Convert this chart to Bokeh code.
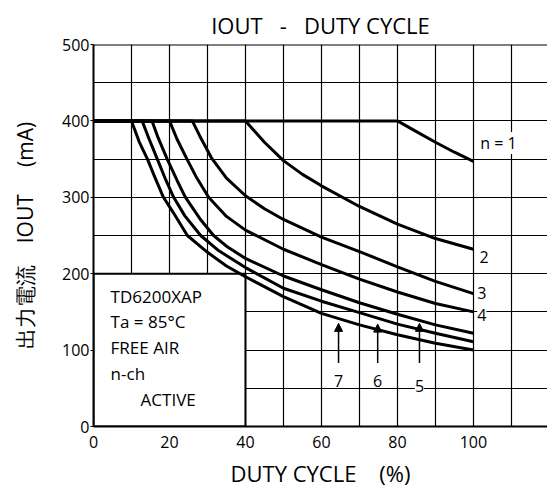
from bokeh.plotting import figure
from bokeh.models import (Range1d, FixedTicker, Label, Arrow, NormalHead, Span,
                          Title, ColumnDataSource)
from bokeh.embed import file_html
from bokeh.resources import INLINE
from bokeh.core.properties import value

# ---------------- data ----------------
n1_x = [0, 80, 85, 90, 95, 100]
n1_y = [400, 400, 386, 372, 359, 347]

n2_x = [0, 40, 45, 50, 55, 60, 70, 80, 90, 100]
n2_y = [400, 400, 372, 348, 330, 315, 288, 265, 246, 232]

n3_x = [0, 26, 28, 31, 35, 40, 45, 50, 60, 70, 80, 90, 100]
n3_y = [400, 400, 380, 352, 325, 302, 285, 271, 248, 229, 209, 190, 174]

n4_x = [0, 20, 22, 24.6, 27, 30.3, 35, 40, 50, 60, 70, 80, 90, 100]
n4_y = [400, 400, 376, 350, 327, 300, 275, 257, 232, 212, 193, 176, 161, 150]

n5_x = [0, 15.4, 17, 19.4, 22, 24.2, 28, 31.6, 35, 40, 50, 60, 70, 80, 90, 100]
n5_y = [400, 400, 378, 350, 322, 300, 272, 250, 236, 220, 197, 179, 162, 147, 133, 122]

n6_x = [0, 12.8, 14.5, 16.8, 19, 21.1, 24, 28.2, 33, 40, 50, 60, 70, 80, 90, 100]
n6_y = [400, 400, 378, 350, 323, 300, 276, 250, 230, 208, 181, 164, 149, 134, 122, 111]

n7_x = [0, 10, 12, 14.2, 16, 18.4, 21, 24.7, 30, 35, 40, 50, 60, 70, 80, 90, 100]
n7_y = [400, 400, 373, 350, 328, 300, 280, 250, 228, 210, 196, 170, 148, 133, 120, 109, 100]

x_tick_values = [0, 20, 40, 60, 80, 100]
y_tick_values = [0, 100, 200, 300, 400, 500]
x_grid_values = [10, 20, 30, 40, 50, 60, 70, 80, 90, 100, 110]
y_grid_values = [50, 100, 150, 200, 250, 300, 350, 400, 450, 500]

curve_labels = ["n = 1", "2", "3", "4"]
curve_label_x = [101.8, 101.6, 101.0, 101.0]
curve_label_y = [371, 222, 175, 146]

arrow_labels = ["7", "6", "5"]
arrow_x = [64.5, 74.8, 85.8]
arrow_tail_y = [83, 83, 83]
arrow_tip_y = [135, 134, 135]
arrow_label_y = [60, 59.5, 53]

box_lines = ["TD6200XAP", "Ta = 85°C", "FREE AIR", "n-ch", "ACTIVE"]
box_text_x = [4.5, 4.5, 4.5, 4.5, 12.4]
box_text_y = [170, 137, 104, 69, 35]
box_extent = dict(left=[0], right=[40], bottom=[0], top=[200])

NB = "\u00a0"
title_text = "IOUT" + NB + " " + NB + "-" + NB + " " + NB + "DUTY CYCLE"
x_title = "DUTY CYCLE" + NB + " " + NB + " " + "(%)"
y_title = "出力電流" + NB + " " + NB + " " + "IOUT" + NB + " " + NB + " " + NB + "(mA)"

# ---------------- figure ----------------
FONT = "Open Sans"

p = figure(width=547, height=490,
           x_range=Range1d(0, 119.5), y_range=Range1d(0, 500),
           output_backend="svg", toolbar_location=None,
           min_border_left=93, min_border_right=0,
           min_border_top=44, min_border_bottom=63)
p.outline_line_color = None
p.background_fill_color = "white"
p.border_fill_color = "white"

p.title = Title(text=title_text, align="center",
                text_font=FONT, text_font_size="22px",
                text_font_style="normal", text_color="black", standoff=10)

p.xaxis.ticker = FixedTicker(ticks=x_tick_values)
p.yaxis.ticker = FixedTicker(ticks=y_tick_values)
p.xgrid.ticker = FixedTicker(ticks=x_grid_values)
p.ygrid.ticker = FixedTicker(ticks=y_grid_values)
for g in (p.xgrid, p.ygrid):
    g.grid_line_color = "black"
    g.grid_line_alpha = 1.0
    g.grid_line_width = 1.2

for ax in (p.xaxis, p.yaxis):
    ax.axis_line_color = "black"
    ax.axis_line_width = 2
    ax.minor_tick_line_color = None
    ax.major_tick_in = 0
    ax.major_label_text_font = FONT
    ax.major_label_text_font_size = "16px"
    ax.major_label_text_color = "black"
    ax.axis_label_text_font = FONT
    ax.axis_label_text_font_style = "normal"
    ax.axis_label_text_color = "black"

p.xaxis.major_tick_out = 0
p.xaxis.major_label_standoff = 9
p.xaxis.axis_label = x_title
p.xaxis.axis_label_text_font_size = "22px"
p.xaxis.axis_label_standoff = 7

p.yaxis.major_tick_out = 3
p.yaxis.major_tick_line_color = "black"
p.yaxis.major_label_standoff = 1
p.yaxis.axis_label = y_title
p.yaxis.axis_label_text_font_size = "21px"
p.yaxis.axis_label_standoff = 20

p.add_layout(Span(location=500, dimension="width", line_color="black", line_width=2))

# info box
p.quad(fill_color="white", line_color="black", line_width=2, **box_extent)
p.text(x=box_text_x, y=box_text_y, text=box_lines,
       text_font=value(FONT), text_font_size="17px",
       text_align="left", text_baseline="middle", text_color="black")

# curves
for cx, cy in [(n1_x, n1_y), (n2_x, n2_y), (n3_x, n3_y), (n4_x, n4_y),
               (n5_x, n5_y), (n6_x, n6_y), (n7_x, n7_y)]:
    p.line(cx, cy, line_color="black", line_width=3, line_join="round")

# curve labels
for t, lx, ly in zip(curve_labels, curve_label_x, curve_label_y):
    p.add_layout(Label(x=lx, y=ly, text=t, text_font=FONT, text_font_size="16px",
                       text_align="left", text_baseline="middle", text_color="black",
                       background_fill_color="white"))

# arrows
arrow_src = ColumnDataSource(dict(x=arrow_x, y0=arrow_tail_y, y1=arrow_tip_y))
p.add_layout(Arrow(end=NormalHead(size=8, fill_color="black", line_color="black"),
                   x_start="x", y_start="y0", x_end="x", y_end="y1",
                   line_width=1.5, line_color="black", source=arrow_src))
for t, lx, ly in zip(arrow_labels, arrow_x, arrow_label_y):
    p.add_layout(Label(x=lx, y=ly, text=t, text_font=FONT, text_font_size="16px",
                       text_align="center", text_baseline="middle", text_color="black",
                       background_fill_color="white"))

open("out.html", "w").write(file_html(p, INLINE))
